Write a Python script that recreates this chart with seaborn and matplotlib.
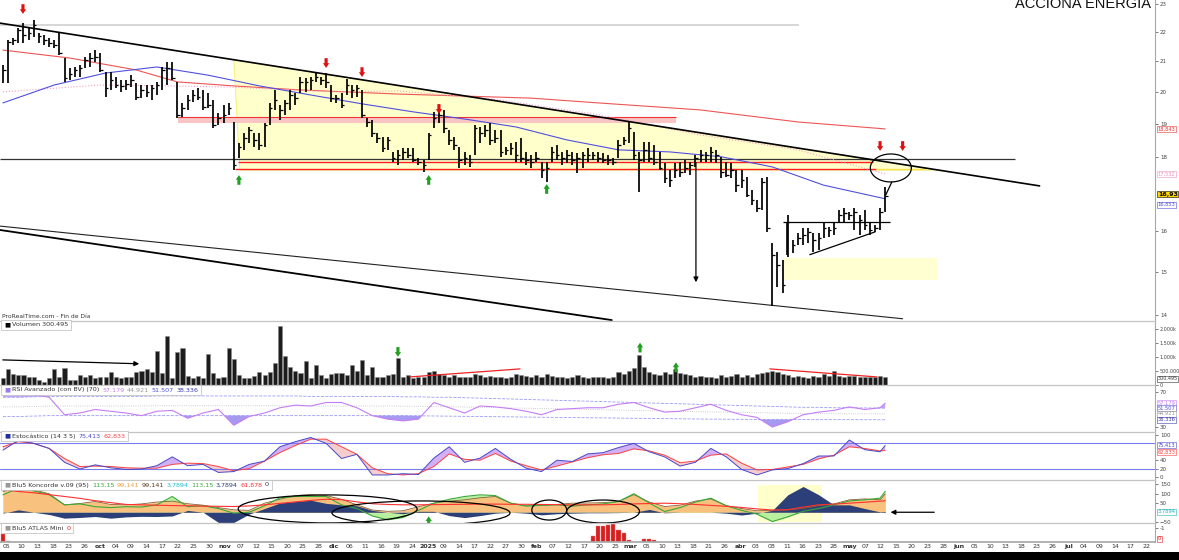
import numpy as np
import matplotlib
matplotlib.use("Agg")
import matplotlib.pyplot as plt
import seaborn as sns
from matplotlib.patches import Rectangle, Polygon, Ellipse
from matplotlib.ticker import NullLocator

sns.set_theme(style="white")
plt.rcParams["font.family"] = ["DejaVu Sans"]

# -----------------------------------
# Daily bars, 4 sep 2024 -> 12 may 2025
# -----------------------------------
high = [20.86, 21.71, 21.78, 22.13, 22.31, 22.17, 22.42, 21.95, 21.88, 21.78,
        21.71, 21.95, 21.10, 20.77, 20.80, 20.86, 21.13, 21.27, 21.37, 21.27,
        20.63, 20.63, 20.47, 20.37, 20.37, 20.53, 20.27, 20.21, 20.21, 20.21,
        20.31, 20.80, 20.96, 20.96, 20.31, 19.64, 19.89, 20.05, 20.11, 20.05,
        19.95, 19.73, 19.33, 19.58, 19.64, 19.05, 18.42, 18.72, 18.90, 18.72,
        18.72, 19.02, 19.64, 20.05, 19.58, 19.73, 20.05, 19.95, 20.47, 20.44,
        20.47, 20.60, 20.47, 20.60, 20.21, 19.89, 19.95, 20.40, 20.21, 20.21,
        20.05, 19.17, 19.11, 18.72, 18.60, 18.60, 18.16, 18.22, 18.28, 18.28,
        18.28, 17.99, 17.93, 18.72, 19.36, 19.48, 19.42, 18.81, 18.60, 18.31,
        18.16, 18.07, 18.96, 18.90, 18.96, 19.02, 18.81, 18.81, 18.31, 18.42,
        18.45, 18.57, 18.16, 18.07, 18.16, 17.87, 17.87, 18.31, 18.36, 18.16,
        18.22, 18.16, 18.13, 18.16, 18.28, 18.16, 18.16, 18.13, 18.07, 17.99,
        18.51, 18.60, 19.05, 18.75, 18.16, 18.45, 18.45, 18.36, 18.16, 17.84,
        17.64, 17.84, 17.87, 17.93, 17.87, 18.07, 18.22, 18.16, 18.31, 18.22,
        18.02, 17.87, 17.84, 17.64, 17.64, 17.45, 17.09, 16.82, 17.41, 17.45,
        15.71, 15.48, 15.28, 16.42, 15.78, 15.96, 16.08, 16.08, 15.96, 15.96,
        16.21, 16.11, 16.21, 16.55, 16.61, 16.50, 16.61, 16.42, 16.55, 16.21,
        16.16, 16.61, 17.17]
low = [20.27, 20.27, 21.54, 21.61, 21.61, 21.71, 21.81, 21.61, 21.54, 21.47,
       21.44, 21.20, 20.31, 20.37, 20.47, 20.47, 20.77, 20.80, 20.96, 20.63,
       19.83, 20.05, 20.11, 19.99, 20.05, 20.14, 19.73, 19.79, 19.83, 19.73,
       19.89, 20.05, 20.21, 20.37, 19.17, 19.20, 19.42, 19.67, 19.73, 19.42,
       19.48, 18.87, 18.96, 19.02, 19.27, 17.64, 17.99, 18.22, 18.42, 18.31,
       18.22, 18.31, 18.96, 19.42, 19.11, 19.27, 19.42, 19.58, 19.95, 19.99,
       20.05, 20.31, 20.21, 20.11, 19.67, 19.64, 19.48, 19.89, 19.79, 19.83,
       19.17, 18.90, 18.60, 18.42, 18.16, 18.22, 17.87, 17.78, 17.93, 17.99,
       17.87, 17.78, 17.58, 17.93, 18.87, 19.02, 18.72, 18.36, 18.22, 17.70,
       17.78, 17.73, 18.07, 18.42, 18.60, 18.36, 18.42, 18.02, 18.07, 18.07,
       17.87, 17.87, 17.78, 17.70, 17.87, 17.41, 17.31, 17.87, 17.93, 17.78,
       17.84, 17.78, 17.56, 17.70, 17.87, 17.93, 17.87, 17.84, 17.78, 17.78,
       17.99, 18.36, 18.42, 17.93, 17.04, 17.87, 17.87, 17.78, 17.64, 17.28,
       17.17, 17.42, 17.45, 17.56, 17.50, 17.73, 17.87, 17.87, 17.87, 17.84,
       17.41, 17.45, 17.41, 17.04, 17.14, 16.90, 16.69, 16.50, 16.55, 15.98,
       14.20, 14.63, 14.49, 15.35, 15.46, 15.66, 15.66, 15.71, 15.48, 15.53,
       15.83, 15.86, 15.91, 16.21, 16.24, 16.29, 16.03, 15.91, 16.03, 15.91,
       15.98, 16.03, 16.50]
close = [20.70, 21.64, 21.71, 22.06, 21.88, 21.95, 22.24, 21.85, 21.71, 21.61,
         21.54, 21.27, 20.44, 20.57, 20.70, 20.77, 21.03, 21.10, 21.13, 20.70,
         20.11, 20.37, 20.21, 20.18, 20.24, 20.37, 19.83, 20.05, 19.99, 20.11,
         20.21, 20.70, 20.77, 20.44, 19.27, 19.48, 19.73, 19.89, 19.83, 19.51,
         19.58, 18.96, 19.17, 19.27, 19.48, 17.78, 18.31, 18.57, 18.81, 18.51,
         18.36, 18.96, 19.48, 19.73, 19.42, 19.64, 19.89, 19.79, 20.31, 20.31,
         20.37, 20.47, 20.37, 20.31, 19.79, 19.79, 19.58, 20.21, 20.05, 20.11,
         19.27, 19.05, 18.72, 18.57, 18.28, 18.51, 17.99, 18.07, 18.16, 18.07,
         17.93, 17.87, 17.78, 18.66, 19.17, 19.27, 18.87, 18.51, 18.36, 17.93,
         17.99, 17.87, 18.87, 18.72, 18.81, 18.51, 18.57, 18.16, 18.22, 18.28,
         18.07, 17.99, 17.93, 17.87, 17.99, 17.64, 17.70, 18.16, 18.07, 17.99,
         18.07, 17.93, 17.99, 18.07, 18.07, 18.07, 17.99, 17.93, 17.93, 17.87,
         18.36, 18.51, 18.87, 18.07, 17.93, 18.22, 17.99, 17.87, 17.70, 17.42,
         17.36, 17.64, 17.58, 17.70, 17.78, 17.99, 18.07, 18.07, 18.16, 18.07,
         17.58, 17.50, 17.64, 17.22, 17.36, 16.95, 16.82, 16.60, 17.31, 16.08,
         15.41, 15.16, 14.68, 16.24, 15.66, 15.83, 15.91, 15.98, 15.78, 15.83,
         16.08, 16.03, 16.08, 16.42, 16.47, 16.42, 16.50, 16.29, 16.16, 16.03,
         16.08, 16.50, 16.93]
bar_idx = list(range(len(close)))

# volume in thousands of shares
volume_k = [238, 559, 393, 357, 357, 274, 274, 179, 119, 238,
            559, 274, 619, 179, 179, 357, 274, 357, 238, 298,
            298, 476, 274, 262, 298, 298, 464, 500, 559, 476,
            1190, 440, 1749, 262, 1154, 1309, 321, 238, 321, 238,
            1107, 417, 238, 298, 1309, 916, 357, 262, 238, 321,
            476, 357, 476, 774, 2106, 1012, 631, 500, 440, 857,
            238, 714, 357, 262, 393, 440, 440, 357, 714, 500,
            893, 357, 655, 274, 298, 357, 393, 952,
            300, 350, 250, 280, 300,
            450, 500, 400, 350, 300, 350, 300, 280, 300, 400,
            350, 300, 320, 300, 280, 260, 300, 400, 350, 320,
            300, 350, 300, 380, 320, 280, 300, 260, 280, 350,
            300, 260, 300, 280, 300, 260, 300, 450, 380, 500,
            600, 1050, 650, 450, 400, 350, 450, 380, 560, 420,
            380, 350, 300, 320, 280, 300, 260, 350, 300, 320,
            380, 300, 350, 300, 380, 420, 450, 500, 450, 400,
            350, 300, 320, 270, 260, 320, 270, 380, 320, 480,
            320, 300, 320, 330, 300, 290, 280, 300, 330, 300]

# moving averages (read at sparse bars)
ma_blue_idx = [0, 10, 20, 30, 40, 50, 60, 70, 80, 90, 100, 110, 120, 130, 140, 150, 160, 172]
ma_blue = [19.64, 20.21, 20.60, 20.80, 20.53, 20.18, 19.89, 19.61, 19.36, 19.14,
           18.90, 18.51, 18.22, 18.16, 18.02, 17.73, 17.22, 16.85]
ma_red_idx = [0, 13, 26, 34, 45, 58, 77, 103, 116, 136, 155, 172]
ma_red = [21.37, 21.10, 20.70, 20.31, 20.18, 20.05, 19.92, 19.79, 19.64, 19.42, 19.05, 18.84]
ma_pink_idx = [0, 19, 32, 45, 64, 77, 97, 116, 136, 155, 172]
ma_pink = [19.99, 20.21, 20.18, 20.14, 19.99, 20.02, 19.73, 19.27, 18.66, 18.22, 17.53]

# indicators, read every third bar
ind_idx = list(range(0, 172, 3)) + [172]
rsi = [67.6, 68, 67, 64, 44, 46, 50, 48, 46, 43,
       48, 49, 40, 46, 50, 32, 42, 46, 52, 55,
       54, 58, 58, 52, 43, 39, 37, 39, 58, 52,
       46, 54, 53, 51, 48, 44, 50, 51, 52, 52,
       56, 58, 52, 47, 48, 52, 56, 49, 44, 41,
       30, 36, 44, 47, 49, 53, 50, 52, 57.2]
rsi_upper = [64, 64, 64.5, 65, 65, 65, 65, 65, 65, 65,
             65.5, 65.5, 65.5, 65.5, 65.5, 65.5, 65.5, 65.5, 65.5, 65.5,
             65, 65, 65, 65, 65, 65, 64.5, 64.5, 64, 64,
             63.5, 63, 62.5, 62, 61.5, 61, 60.5, 60, 59.5, 59,
             58.5, 58, 57.5, 57, 56.5, 56, 55.5, 55, 54.5, 54,
             53.5, 53, 52.5, 52.5, 52, 52, 51.8, 51.6, 51.5]
rsi_lower = [42, 42, 42.5, 43, 43, 43, 43, 43, 43, 43,
             43, 43, 43, 43, 43, 43, 43, 43, 43, 43,
             43, 43, 43, 43, 43, 43, 43, 42.8, 42.6, 42.4,
             42.2, 42, 41.8, 41.6, 41.4, 41.2, 41, 40.8, 40.6, 40.4,
             40.2, 40, 39.8, 39.6, 39.4, 39.2, 39, 38.9, 38.8, 38.7,
             38.6, 38.5, 38.5, 38.4, 38.4, 38.4, 38.3, 38.3, 38.3]
stoch_k = [64, 87, 80, 68, 35, 19, 29, 22, 18, 19,
           27, 48, 27, 30, 11, 13, 30, 38, 72, 84,
           94, 80, 44, 54, 5, 5, 8, 6, 45, 72,
           35, 45, 68, 42, 21, 13, 40, 37, 55, 58,
           70, 80, 60, 48, 26, 35, 68, 48, 18, 5,
           17, 20, 32, 50, 50, 88, 65, 60, 75]
stoch_d = [72, 84, 80, 68, 44, 25, 26, 25, 22, 21,
           21, 30, 33, 32, 25, 15, 20, 38, 58, 75,
           90, 90, 72, 54, 22, 8, 5, 8, 25, 55,
           42, 40, 56, 38, 27, 17, 26, 36, 46, 53,
           56, 67, 62, 52, 34, 38, 52, 55, 33, 17,
           18, 24, 30, 43, 52, 72, 68, 62, 63]
kon_orange = [112, 128, 121, 100, 40, 47, 58, 42, 40, 45,
              55, 60, 46, 38, 25, 13, 10, 49, 70, 90,
              95, 90, 70, 40, 12, 5, 8, 30, 49, 60,
              67, 78, 85, 49, 35, 36, 42, 49, 50, 52,
              58, 95, 55, 31, 38, 60, 72, 36, 20, 8,
              10, 12, 20, 35, 45, 67, 72, 67, 99]
kon_green = [94, 130, 115, 95, 40, 45, 30, 25, 30, 28,
             40, 85, 30, 35, 20, -5, 0, 35, 78, 85,
             85, 85, 40, 20, -20, -41, -28, 10, 49, 70,
             85, 94, 90, 49, 33, 38, 40, 33, 40, 45,
             58, 100, 50, 4, 25, 55, 76, 35, 10, -10,
             -50, -25, 5, 20, 40, 61, 67, 76, 113]
kon_blue = [-5, 13, 0, -12, -32, -28, -23, -32, -25, -22,
            -23, -20, 10, 0, -55, -55, -10, 20, 50, 58,
            65, 48, 40, 35, 10, 0, -8, 5, 5, -18,
            -29, -18, -5, 0, -5, -14, -8, -5, -3, -3,
            -2, 0, 15, -3, 0, 0, 0, -5, -15, -5,
            10, 94, 139, 95, 40, 40, 20, 2, 4]
kon_red = [121, 112, 105, 95, 85, 75, 62, 52, 42, 40,
           38, 36, 35, 33, 32, 31, 34, 40, 48, 56,
           64, 70, 68, 56, 46, 42, 40, 40, 41, 42,
           43, 44, 44, 43, 43, 42, 41, 40, 40, 40,
           42, 45, 47, 49, 46, 42, 37, 32, 26, 18,
           12, 14, 28, 40, 44, 49, 54, 60, 62]
atlas_idx = [0, 1, 115, 116, 117, 118, 119, 120, 121, 122, 125, 126, 127]
atlas_val = [23, 3, 17, 45, 45, 48, 52, 35, 25, 5, 8, 8, 5]

date_labels = ["05", "10", "13", "18", "23", "26", "oct", "04", "09", "14", "17", "22", "25", "30",
               "nov", "07", "12", "15", "20", "25", "28", "dic", "06", "11", "16", "19", "24",
               "2025", "09", "14", "17", "22", "27", "30", "feb", "07", "12", "17", "20", "25",
               "mar", "05", "10", "13", "18", "21", "26", "abr", "03", "08", "11", "16", "23", "28",
               "may", "07", "12", "15", "20", "23", "28", "jun", "05", "10", "13", "18", "23", "26",
               "jul", "04", "09", "14", "17", "22"]
month_names = {"oct", "nov", "dic", "2025", "feb", "mar", "abr", "may", "jun", "jul"}
price_ticks = [14, 15, 16, 18, 19, 20, 21, 22, 23]

# -----------------------------------
# Figure layout (pixel bands)
# -----------------------------------
W, H = 1179, 560
fig = plt.figure(figsize=(W / 100, H / 100), dpi=100)
fig.patch.set_facecolor("white")


def band(top, bottom):
    return [0, 1 - bottom / H, 1155 / W, (bottom - top) / H]


ax_p = fig.add_axes(band(0, 321))
ax_v = fig.add_axes(band(321, 385), sharex=ax_p)
ax_r = fig.add_axes(band(385, 432), sharex=ax_p)
ax_s = fig.add_axes(band(432, 480), sharex=ax_p)
ax_k = fig.add_axes(band(480, 523), sharex=ax_p)
ax_a = fig.add_axes(band(523, 542), sharex=ax_p)
all_axes = [ax_p, ax_v, ax_r, ax_s, ax_k, ax_a]


def small_arrow(ax, x, y, color, down=True, size=7):
    ax.annotate("", xy=(x, y), xytext=(0, size if down else -size), textcoords="offset points",
                arrowprops=dict(arrowstyle="simple,head_width=0.6,head_length=0.45,tail_width=0.3",
                                color=color, lw=0, mutation_scale=7.5, shrinkA=0, shrinkB=0),
                zorder=8)


# -----------------------------------
# Price panel
# -----------------------------------
ax_p.set_yscale("log")
ax_p.add_patch(Polygon([(45.0, 21.04), (182.3, 17.64), (46.2, 17.64)], closed=True,
                       facecolor="#ffffcc", edgecolor="#eeee66", lw=0.6, zorder=0))
ax_p.add_patch(Rectangle((152.0, 14.80), 30.1, 0.53, facecolor="#ffffd2", edgecolor="none", zorder=0))
ax_p.add_patch(Rectangle((34.1, 19.02), 97.1, 0.18, facecolor="#f8c4c4", edgecolor="none", zorder=1))
ax_p.hlines(19.20, 34.1, 131.2, color="#ee3333", lw=0.8, zorder=2)
ax_p.hlines(22.24, -0.6, 155.2, color="#d0d0d0", lw=1.2, zorder=1)
ax_p.hlines(17.96, -0.6, 197.3, color="#333333", lw=0.9, zorder=2)
ax_p.hlines(17.87, 45.8, 169.6, color="#ff2020", lw=1.0, zorder=2)
ax_p.hlines(17.67, 45.2, 170.2, color="#ff2020", lw=1.0, zorder=2)
ax_p.hlines(17.67, 170.2, 179.7, color="#f5e050", lw=1.0, zorder=2)

sns.lineplot(x=ma_red_idx, y=ma_red, ax=ax_p, color="#ee5555", lw=0.8, zorder=3)
sns.lineplot(x=ma_pink_idx, y=ma_pink, ax=ax_p, color="#f4a0c8", lw=0.8, linestyle=":", zorder=3)
sns.lineplot(x=ma_blue_idx, y=ma_blue, ax=ax_p, color="#5050dd", lw=0.8, zorder=3)

ax_p.plot([-0.58, 202.1], [22.31, 17.20], color="black", lw=1.2, zorder=4)
ax_p.plot([-0.58, 175.4], [16.13, 13.91], color="#222222", lw=0.8, zorder=4)
ax_p.plot([-0.58, 118.7], [16.03, 13.88], color="black", lw=1.3, zorder=4)

xb = np.array(bar_idx)
ax_p.vlines(xb, low, high, color="black", lw=1.25, zorder=5)
ax_p.hlines(close, xb, xb + 0.5, color="black", lw=0.9, zorder=5)

# chart drawings
t = np.linspace(0, 2 * np.pi, 120)
ax_p.plot(173.1 + 4.0 * np.cos(t), 17.70 * np.exp(0.02236 * np.sin(t)), color="black", lw=0.9, zorder=6)
ax_p.plot([173.3, 172.1], [17.31, 16.95], color="black", lw=0.9, zorder=6)
ax_p.hlines(16.23, 152.0, 172.9, color="black", lw=0.9, zorder=6)
ax_p.vlines(152.8, 15.40, 16.23, color="black", lw=1.2, zorder=6)
ax_p.plot([157.3, 170.0], [15.41, 15.98], color="black", lw=0.9, zorder=6)
ax_p.annotate("", xy=(135.1, 14.68), xytext=(135.1, 17.93),
              arrowprops=dict(arrowstyle="-|>", color="black", lw=0.9, mutation_scale=7), zorder=6)
for xi, yi in [(3.9, 22.64), (63.0, 20.77), (70.0, 20.47), (85.0, 19.30), (171.0, 18.19), (175.4, 18.19)]:
    small_arrow(ax_p, xi, yi, "#e01010", down=True)
for xi, yi in [(46.0, 17.50), (83.0, 17.50), (106.0, 17.25)]:
    small_arrow(ax_p, xi, yi, "#22a022", down=False)

ax_p.set_ylim(13.86, 23.15)
ax_p.yaxis.set_minor_locator(NullLocator())
ax_p.set_yticks(price_ticks)
ax_p.set_yticklabels([str(v) for v in price_ticks])

# -----------------------------------
# Volume panel
# -----------------------------------
sns.barplot(x=bar_idx, y=volume_k, native_scale=True, color="#1c1c1c", saturation=1,
            edgecolor="#8a8a8a", linewidth=0.4, width=0.8, ax=ax_v)
ax_v.annotate("", xy=(27.1, 750), xytext=(-0.58, 893),
              arrowprops=dict(arrowstyle="-|>", color="black", lw=0.9, mutation_scale=7))
ax_v.plot([79.3, 100.8], [286, 571], color="#ee2222", lw=0.9)
ax_v.plot([149.5, 170.4], [571, 286], color="#ee2222", lw=0.9)
small_arrow(ax_v, 77, 1000, "#22a022", down=True)
small_arrow(ax_v, 124.2, 1500, "#22a022", down=False)
small_arrow(ax_v, 131.2, 800, "#22a022", down=False)
ax_v.set_ylim(0, 2270)
ax_v.set_yticks([0, 500, 1000, 1500, 2000])
ax_v.set_yticklabels(["0", "500.000", "1.000k", "1.500k", "2.000k"])

# -----------------------------------
# RSI panel
# -----------------------------------
r_arr, up_arr, lo_arr = np.array(rsi), np.array(rsi_upper), np.array(rsi_lower)
ax_r.fill_between(ind_idx, up_arr, r_arr, where=r_arr > up_arr, interpolate=True, color="#c8a8f8", lw=0)
ax_r.fill_between(ind_idx, lo_arr, r_arr, where=r_arr < lo_arr, interpolate=True, color="#a59af0", lw=0)
sns.lineplot(x=ind_idx, y=rsi_upper, ax=ax_r, color="#9a9af5", lw=0.6, linestyle="--")
sns.lineplot(x=ind_idx, y=rsi_lower, ax=ax_r, color="#9a9af5", lw=0.6, linestyle="--")
sns.lineplot(x=ind_idx, y=(up_arr + lo_arr) / 2, ax=ax_r, color="#bbbbbb", lw=0.6, linestyle=":")
sns.lineplot(x=ind_idx, y=rsi, ax=ax_r, color="#c57df5", lw=0.8)
ax_r.set_ylim(24.3, 78)
ax_r.set_yticks([30, 70])

# -----------------------------------
# Stochastic panel
# -----------------------------------
k_arr, d_arr = np.array(stoch_k), np.array(stoch_d)
ax_s.fill_between(ind_idx, d_arr, k_arr, where=k_arr >= d_arr, interpolate=True, color="#d2b0f5", lw=0)
ax_s.fill_between(ind_idx, d_arr, k_arr, where=k_arr < d_arr, interpolate=True, color="#f6cccc", lw=0)
ax_s.axhline(80, color="#7b7bf0", lw=0.8)
ax_s.axhline(20, color="#7b7bf0", lw=0.8)
sns.lineplot(x=ind_idx, y=stoch_d, ax=ax_s, color="#ff4040", lw=0.7)
sns.lineplot(x=ind_idx, y=stoch_k, ax=ax_s, color="#4848c8", lw=0.7)
ax_s.set_ylim(-7, 107)
ax_s.set_yticks([0, 20, 40, 100])

# -----------------------------------
# Koncorde panel
# -----------------------------------
ax_k.add_patch(Rectangle((147.2, -52), 12.5, 199, facecolor="#ffffcc", edgecolor="none", zorder=0))
ax_k.fill_between(ind_idx, 0, kon_green, color="#b8f0a0", lw=0, zorder=1)
ax_k.fill_between(ind_idx, 0, kon_orange, color="#f8c27e", lw=0, zorder=2)
ax_k.fill_between(ind_idx, 0, kon_blue, color="#2c3f78", lw=0, zorder=3)
sns.lineplot(x=ind_idx, y=kon_orange, ax=ax_k, color="#8b5e34", lw=0.6, zorder=4)
sns.lineplot(x=ind_idx, y=kon_green, ax=ax_k, color="#3aa83a", lw=0.8, zorder=4)
sns.lineplot(x=ind_idx, y=kon_red, ax=ax_k, color="#ff3030", lw=0.8, zorder=5)
for cx, cy, ew, eh in [(63.3, 18, 34.9, 151), (81.5, -4, 34.7, 130), (106.5, 12, 6.8, 108), (117.0, 4, 14.2, 124)]:
    ax_k.add_patch(Ellipse((cx, cy), ew, eh, fill=False, edgecolor="black", lw=0.9, zorder=6))
ax_k.annotate("", xy=(172.5, 0), xytext=(182.1, 0),
              arrowprops=dict(arrowstyle="-|>", color="black", lw=0.9, mutation_scale=7))
small_arrow(ax_k, 83, -22, "#22a022", down=False, size=6)
ax_k.set_ylim(-58, 174)
ax_k.set_yticks([-50, 50, 100, 150])

# -----------------------------------
# ATLAS panel
# -----------------------------------
ax_a.bar(atlas_idx, atlas_val, width=0.8, color="#d42020", edgecolor="#f08080", lw=0.3)
ax_a.set_ylim(0, 55)
ax_a.set_yticks([40])
ax_a.set_yticklabels(["-1"])

# -----------------------------------
# Axis cosmetics
# -----------------------------------
for ax in all_axes:
    ax.set_facecolor("white")
    ax.set(xlabel="", ylabel="")
    ax.grid(False)
    ax.spines["left"].set_visible(False)
    ax.spines["bottom"].set_visible(False)
    ax.spines["top"].set_color("#c4c4c4")
    ax.spines["top"].set_linewidth(0.9)
    ax.spines["right"].set_color("#a8a8a8")
    ax.spines["right"].set_linewidth(0.8)
    ax.yaxis.tick_right()
    ax.tick_params(axis="y", labelsize=4.0, length=2, width=0.5, pad=1.5, colors="#444444")
    ax.tick_params(axis="x", bottom=False, labelbottom=False, length=0)
ax_v.tick_params(axis="y", labelsize=3.5, pad=1)
ax_p.spines["top"].set_visible(False)
ax_a.spines["bottom"].set_visible(True)
ax_a.spines["bottom"].set_color("#a8a8a8")

tick_pos = [0.6 + 3.045 * k for k in range(len(date_labels))]
ax_a.set_xticks(tick_pos)
ax_a.set_xticklabels(date_labels)
ax_a.tick_params(axis="x", labelbottom=True, labelsize=4.5, pad=1.5, colors="#333333")
for lab in ax_a.get_xticklabels():
    if lab.get_text() in month_names:
        lab.set_fontweight("bold")
ax_p.set_xlim(-0.58, 224.6)


# value tags at the right edge
def tag(ax, y, txt, col, face="white", bold=False, size=3.7):
    ax.text(1.0025, y, txt, transform=ax.get_yaxis_transform(), fontsize=size, color=col,
            fontweight="bold" if bold else "normal", va="center", ha="left", clip_on=False,
            bbox=dict(boxstyle="square,pad=0.1", fc=face, ec=col, lw=0.4), zorder=10)


tag(ax_p, 18.843, "18,843", "#ee3333")
tag(ax_p, 17.532, "17,532", "#f090c0")
tag(ax_p, 16.97, "16,93", "black", face="#ffd700", bold=True, size=4.5)
tag(ax_p, 16.69, "16,853", "#5050dd")
tag(ax_v, 230, "300.495", "#333333", size=3.5)
tag(ax_r, 57.179, "57.179", "#c57df5")
tag(ax_r, 51.507, "51.507", "#5050dd")
tag(ax_r, 44.921, "44.921", "#999999")
tag(ax_r, 38.336, "38.336", "#3a3ab0")
tag(ax_s, 75.413, "75,413", "#4848c8")
tag(ax_s, 60.0, "62,833", "#ff4040")
tag(ax_k, 3.79, "3,7894", "#20b0c0")
tag(ax_a, 10, "0", "#e02020")

# -----------------------------------
# Panel legends and texts
# -----------------------------------
renderer = fig.canvas.get_renderer()


def legend_row(y_px, pieces):
    x = 4.0
    for txt, col in pieces:
        tx = fig.text(x / W, 1 - y_px / H, txt, color=col, fontsize=4.6, va="center", ha="left", zorder=6)
        x += tx.get_window_extent(renderer).width + 2.5
    fig.patches.append(Rectangle((1 / W, 1 - (y_px + 5) / H), (x - 1) / W, 10 / H,
                                 transform=fig.transFigure, facecolor="white",
                                 edgecolor="#bbbbbb", lw=0.5, zorder=5))


legend_row(325, [("■", "black"), ("Volumen 300.495", "#333333")])
legend_row(390, [("■", "#9a7af0"), ("RSI Avanzado (con BV) (70)", "#333333"), ("57.179", "#c57df5"),
                 ("44.921", "#999999"), ("51.507", "#5050dd"), ("38.336", "#3a3ab0")])
legend_row(436, [("■", "#2030a0"), ("Estocástico (14 3 5)", "#333333"), ("75,413", "#4848c8"),
                 ("62,833", "#ff4040")])
legend_row(485, [("■", "#999999"), ("Blu5 Koncorde v.09 (95)", "#333333"), ("113,15", "#3aa83a"),
                 ("99,141", "#f0a040"), ("99,141", "#5a3a1a"), ("3,7894", "#20c0d0"),
                 ("113,15", "#3aa83a"), ("3,7894", "#2c3f78"), ("61,878", "#ff3030"), ("0", "#333333")])
legend_row(528, [("■", "#999999"), ("Blu5 ATLAS Mini", "#333333"), ("0", "#e02020")])

fig.text(2 / W, 1 - 316 / H, "ProRealTime.com - Fin de Día", fontsize=4.3, color="#333333",
         va="center", ha="left")
fig.text(1151 / W, 1 - 7.5 / H, "ACCIONA ENERGIA", fontsize=10.5, color="#111111",
         family=["Liberation Sans", "DejaVu Sans"], va="baseline", ha="right")
fig.patches.append(Rectangle((0, 0), 1, 8 / H, transform=fig.transFigure, facecolor="black",
                             edgecolor="none", zorder=1))

fig.savefig("out.png", dpi=100, facecolor="white")
